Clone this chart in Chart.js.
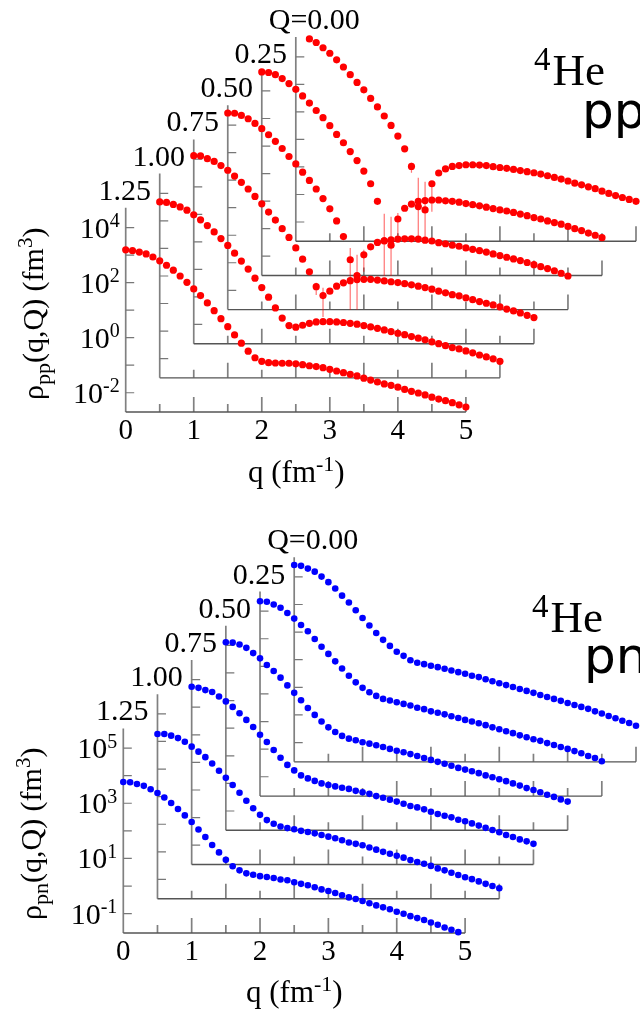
<!DOCTYPE html>
<html>
<head>
<meta charset="utf-8">
<title>4He pp and pn</title>
<script src="https://cdn.jsdelivr.net/npm/chart.js@4/dist/chart.umd.min.js"></script>
<style>
  html, body { margin: 0; padding: 0; background: #fff; }
  canvas { display: block; filter: blur(0.45px); }
</style>
</head>
<body>
<canvas id="ppChart" width="640" height="500"></canvas>
<canvas id="pnChart" width="640" height="511"></canvas>
<script>
// all curves are log10(rho) on the frame of their own Q
const qValues = [0,0.1,0.2,0.3,0.4,0.5,0.6,0.7,0.8,0.9,1,1.1,1.2,1.3,1.4,1.5,1.6,1.7,1.8,1.9,2,2.1,2.2,2.3,2.4,2.5,2.6,2.7,2.8,2.9,3,3.1,3.2,3.3,3.4,3.5,3.6,3.7,3.8,3.9,4,4.1,4.2,4.3,4.4,4.5,4.6,4.7,4.8,4.9,5]
const qLabels = ['1.25','1.00','0.75','0.50','0.25','Q=0.00']

const ppQ125 = [3.19,3.16,3.11,3.04,2.93,2.79,2.63,2.45,2.24,2.01,1.77,1.53,1.26,0.98,0.69,0.40,0.10,-0.20,-0.49,-0.73,-0.86,-0.91,-0.92,-0.93,-0.93,-0.95,-0.98,-1.02,-1.05,-1.09,-1.15,-1.21,-1.27,-1.33,-1.39,-1.47,-1.54,-1.61,-1.68,-1.73,-1.80,-1.88,-1.95,-2.01,-2.08,-2.16,-2.23,-2.29,-2.36,-2.44,-2.52]
const ppQ100 = [3.69,3.67,3.60,3.51,3.39,3.22,3.04,2.83,2.60,2.36,2.11,1.83,1.54,1.25,0.92,0.58,0.23,-0.16,-0.53,-0.80,-0.86,-0.79,-0.72,-0.67,-0.66,-0.66,-0.67,-0.69,-0.72,-0.75,-0.80,-0.85,-0.90,-0.96,-1.02,-1.08,-1.13,-1.20,-1.26,-1.32,-1.39,-1.46,-1.53,-1.60,-1.65,-1.72,-1.79,-1.87,-1.94,-2.01,-2.10]
const ppQ075 = [4.13,4.12,4.02,3.92,3.77,3.60,3.39,3.16,2.92,2.65,2.38,2.08,1.79,1.48,1.16,0.78,0.37,-0.09,-0.63,-0.95,-0.79,-0.61,-0.49,-0.41,-0.37,-0.36,-0.36,-0.39,-0.42,-0.45,-0.48,-0.52,-0.56,-0.61,-0.66,-0.72,-0.79,-0.85,-0.92,-0.96,-1.03,-1.10,-1.17,-1.23,-1.29,-1.36,-1.44,-1.51,-1.58,-1.67,-1.75]
const ppQ050 = [4.44,4.43,4.35,4.23,4.06,3.87,3.65,3.41,3.15,2.86,2.59,2.29,1.99,1.68,1.33,0.96,0.52,-0.05,-0.89,-1.47,-0.71,-0.42,-0.26,-0.20,-0.17,-0.14,-0.13,-0.13,-0.14,-0.18,-0.21,-0.27,-0.31,-0.36,-0.40,-0.46,-0.51,-0.56,-0.61,-0.68,-0.74,-0.80,-0.86,-0.92,-0.99,-1.07,-1.14,-1.21,-1.29,-1.38,-1.48]
const ppQ025 = [4.69,4.67,4.59,4.45,4.27,4.06,3.82,3.56,3.29,3.03,2.74,2.42,2.12,1.80,1.47,1.09,0.63,-0.01,-1.44,-1.60,-0.65,-0.26,-0.11,-0.01,0.02,0.04,0.04,0.01,-0.01,-0.04,-0.09,-0.13,-0.17,-0.22,-0.27,-0.32,-0.36,-0.41,-0.47,-0.53,-0.60,-0.65,-0.72,-0.78,-0.84,-0.92,-1.00,-1.07,-1.16,-1.24,-1.33]
const ppQ000 = [null,null,4.65,4.52,4.33,4.13,3.89,3.63,3.35,3.07,2.80,2.49,2.18,1.85,1.51,1.12,0.66,0.02,-1.44,-1.56,-0.61,-0.22,-0.07,0.02,0.05,0.08,0.08,0.07,0.05,0.01,-0.02,-0.05,-0.09,-0.13,-0.17,-0.21,-0.26,-0.32,-0.38,-0.44,-0.51,-0.59,-0.65,-0.72,-0.79,-0.88,-0.96,-1.04,-1.11,-1.18,-1.25]

const pnQ125 = [3.77,3.76,3.70,3.63,3.51,3.37,3.21,3.01,2.79,2.56,2.32,2.05,1.78,1.49,1.22,0.95,0.72,0.57,0.46,0.41,0.36,0.33,0.29,0.24,0.21,0.14,0.08,0.03,-0.04,-0.12,-0.18,-0.25,-0.33,-0.41,-0.47,-0.54,-0.62,-0.70,-0.77,-0.84,-0.93,-1.00,-1.09,-1.16,-1.23,-1.32,-1.40,-1.50,-1.58,-1.67,null]
const pnQ100 = [4.27,4.27,4.21,4.12,3.99,3.81,3.63,3.43,3.20,2.94,2.68,2.42,2.14,1.85,1.58,1.34,1.15,1.02,0.92,0.86,0.82,0.76,0.72,0.67,0.61,0.55,0.49,0.42,0.34,0.29,0.24,0.16,0.08,0.00,-0.07,-0.14,-0.21,-0.30,-0.37,-0.43,-0.51,-0.60,-0.67,-0.76,-0.84,-0.92,-0.99,-1.07,-1.16,-1.24,-1.32]
const pnQ075 = [4.74,4.70,4.62,4.55,4.39,4.21,4.01,3.78,3.54,3.28,3.00,2.74,2.45,2.17,1.91,1.71,1.53,1.42,1.33,1.24,1.18,1.13,1.08,1.04,0.97,0.92,0.86,0.78,0.72,0.65,0.58,0.50,0.42,0.37,0.30,0.21,0.13,0.07,0.01,-0.08,-0.13,-0.21,-0.29,-0.37,-0.45,-0.53,-0.63,-0.70,-0.79,-0.86,-0.95]
const pnQ050 = [5.11,5.10,5.03,4.91,4.72,4.53,4.29,4.07,3.83,3.55,3.28,3.01,2.73,2.48,2.24,2.03,1.86,1.72,1.62,1.56,1.49,1.44,1.38,1.32,1.25,1.18,1.13,1.06,0.99,0.92,0.85,0.78,0.71,0.64,0.56,0.50,0.44,0.37,0.29,0.22,0.15,0.08,0.00,-0.08,-0.17,-0.24,-0.32,-0.41,-0.49,-0.58,-0.66]
const pnQ025 = [5.36,5.34,5.24,5.12,4.93,4.73,4.50,4.27,3.99,3.71,3.45,3.18,2.92,2.66,2.42,2.22,2.06,1.93,1.82,1.76,1.70,1.64,1.58,1.50,1.45,1.37,1.32,1.26,1.19,1.13,1.06,1.00,0.94,0.87,0.79,0.72,0.65,0.58,0.50,0.43,0.36,0.30,0.22,0.15,0.08,0.01,-0.07,-0.15,-0.25,-0.32,-0.44]
const pnQ000 = [5.43,5.40,5.30,5.19,5.01,4.81,4.58,4.32,4.07,3.79,3.51,3.24,2.97,2.72,2.50,2.29,2.14,1.98,1.89,1.84,1.78,1.73,1.67,1.61,1.55,1.49,1.42,1.37,1.29,1.22,1.15,1.08,1.01,0.94,0.87,0.80,0.72,0.65,0.58,0.51,0.43,0.36,0.29,0.22,0.13,0.05,-0.04,-0.12,-0.21,-0.29,-0.39]

// error bars near the pp minima: frame index (0 = Q 1.25), q, log10 high, log10 low
const errFrame = [2,2,3,3,3,4,4,4,5,5,5,5]
const errQ = [1.8,1.9,1.8,1.9,2.0,1.8,1.9,2.0,1.7,1.8,1.9,2.0]
const errHigh = [-0.49,-0.67,-0.46,-0.71,-0.53,-0.46,-0.57,-0.43,0.15,-0.39,-0.54,-0.54]
const errLow = [-0.93,-1.73,-2.71,-2.71,-1.33,-2.72,-2.72,-1.23,-0.21,-2.57,-2.54,-1.63]

const ppTicks = [-2,-1,0,1,2,3,4]
const ppTickLabels = [-2,0,2,4]
const pnTicks = [-1,0,1,2,3,4,5]
const pnTickLabels = [-1,1,3,5]
const xTicks = [0,0.5,1,1.5,2,2.5,3,3.5,4,4.5,5]
const xTickLabels = [0,1,2,3,4,5]

const FRAME_DQ = 0.5
const FRAME_DLOG = 1.24
const SERIF = '"Liberation Serif", serif'

function drawRuns(ctx, runs, x, y, align) {
    const width = r => { ctx.font = `${r.size}px ${SERIF}`; return ctx.measureText(r.text).width }
    let cx = x
    if (align === 'right') cx -= runs.reduce((s, r) => s + width(r), 0)
    ctx.textAlign = 'left'
    ctx.textBaseline = 'alphabetic'
    runs.forEach(r => {
        const w = width(r)
        ctx.fillText(r.text, cx, y + (r.dy || 0))
        cx += w
    })
}

// frames behind the points, one per Q, and all the text
const framesPlugin = {
    id: 'frames',
    beforeDatasetsDraw(chart, args, o) {
        const { ctx, scales } = chart
        const px = (q, i) => scales.x.getPixelForValue(q + FRAME_DQ * i)
        const py = (l, i) => scales.y.getPixelForValue(Math.pow(10, l + FRAME_DLOG * i))
        ctx.save()
        qLabels.forEach((label, i) => {
            const left = px(0, i), right = px(5, i)
            const bottom = py(o.logMin, i), top = py(o.logTop, i)

            ctx.strokeStyle = '#808080'
            ctx.lineWidth = 1.7
            ctx.beginPath()
            ctx.moveTo(left, bottom); ctx.lineTo(left, top)
            xTicks.forEach(q => {
                if (q === 0) return
                const len = Number.isInteger(q) ? 15 : 8
                ctx.moveTo(px(q, i), bottom); ctx.lineTo(px(q, i), bottom - len)
            })
            ctx.stroke()

            ctx.strokeStyle = '#777'
            ctx.lineWidth = 1.2
            ctx.beginPath()
            o.ticks.forEach(t => {
                ctx.moveTo(left, py(t, i)); ctx.lineTo(left + 8.5, py(t, i))
            })
            ctx.stroke()

            ctx.strokeStyle = '#555'
            ctx.lineWidth = 1.4
            ctx.beginPath()
            ctx.moveTo(left, bottom); ctx.lineTo(right, bottom)
            ctx.stroke()

            ctx.fillStyle = '#000'
            ctx.font = `30px ${SERIF}`
            ctx.textAlign = 'center'
            ctx.textBaseline = 'alphabetic'
            ctx.fillText(label, left + (i === 5 ? 18.5 : -1), top - 8)
        })

        // tick labels sit on the front frame only
        ctx.fillStyle = '#000'
        o.tickLabels.forEach(t => {
            drawRuns(ctx, [
                { text: '10', size: 30 },
                { text: String(t), size: 20, dy: -10.5 }
            ], scales.x.left - 6, py(t, 0) + 10, 'right')
        })
        ctx.font = `29px ${SERIF}`
        ctx.textAlign = 'center'
        xTickLabels.forEach(q => ctx.fillText(String(q), px(q, 0), py(o.logMin, 0) + 27))

        drawRuns(ctx, [
            { text: 'q (fm', size: 31 },
            { text: '-1', size: 22, dy: -11 },
            { text: ')', size: 31 }
        ], o.xTitle[0], o.xTitle[1])

        ctx.save()
        ctx.translate(o.yTitle[0], o.yTitle[1])
        ctx.rotate(-Math.PI / 2)
        drawRuns(ctx, [
            { text: 'ρ', size: 30 },
            { text: o.pair, size: 22, dy: 7 },
            { text: '(q,Q) (fm', size: 30 },
            { text: '3', size: 21, dy: -11 },
            { text: ')', size: 30 }
        ], 0, 0)
        ctx.restore()

        drawRuns(ctx, [{ text: '4', size: 33 }], o.he[0], o.he[1] - 15)
        drawRuns(ctx, [{ text: 'He', size: 45 }], o.he[0] + 18.5, o.he[1])
        ctx.font = '50px "DejaVu Sans", sans-serif'
        ctx.textAlign = 'left'
        ctx.fillText(o.pair, o.pairAt[0], o.pairAt[1])

        if (o.errors) {
            ctx.strokeStyle = 'rgba(255,0,0,0.55)'
            ctx.lineWidth = 1.2
            ctx.beginPath()
            errQ.forEach((q, k) => {
                const x = px(q, errFrame[k])
                ctx.moveTo(x, py(errHigh[k], errFrame[k]))
                ctx.lineTo(x, py(errLow[k], errFrame[k]))
            })
            ctx.stroke()
        }
        ctx.restore()
    }
}

function makeChart(id, curves, color, radius, o) {
    const datasets = curves.map((values, i) => ({
        label: qLabels[i],
        data: values.map((v, j) => ({
            x: qValues[j] + FRAME_DQ * i,
            y: v === null ? null : Math.pow(10, v + FRAME_DLOG * i)
        })),
        showLine: false,
        clip: false,
        pointRadius: radius,
        pointBorderWidth: 0,
        pointBackgroundColor: color
    }))
    return new Chart(document.getElementById(id), {
        type: 'scatter',
        data: { datasets },
        plugins: [framesPlugin],
        options: {
            responsive: false,
            animation: false,
            events: [],
            layout: { padding: o.padding },
            plugins: { legend: { display: false }, tooltip: { enabled: false }, frames: o },
            scales: {
                x: { type: 'linear', display: false, min: 0, max: 5 + FRAME_DQ * 5, bounds: 'data' },
                y: {
                    type: 'logarithmic', display: false, bounds: 'data',
                    min: Math.pow(10, o.logMin),
                    max: Math.pow(10, o.logTop + FRAME_DLOG * 5)
                }
            }
        }
    })
}

makeChart('ppChart', [ppQ125, ppQ100, ppQ075, ppQ050, ppQ025, ppQ000], '#ff0000', 3.6, {
    padding: { left: 125.7, right: 2.05, top: 37, bottom: 88 },
    logMin: -2.7, logTop: 4.72,
    ticks: ppTicks, tickLabels: ppTickLabels,
    pair: 'pp', errors: true,
    xTitle: [248, 481.7], yTitle: [43, 400],
    he: [534, 85], pairAt: [582, 128]
})

makeChart('pnChart', [pnQ125, pnQ100, pnQ075, pnQ050, pnQ025, pnQ000], '#0000ff', 3.3, {
    padding: { left: 123.3, right: 4, top: 57.3, bottom: 78 },
    logMin: -1.7, logTop: 5.71,
    ticks: pnTicks, tickLabels: pnTickLabels,
    pair: 'pn', errors: false,
    xTitle: [246, 501.7], yTitle: [41, 420],
    he: [532, 131.7], pairAt: [584, 173]
})
</script>
</body>
</html>
